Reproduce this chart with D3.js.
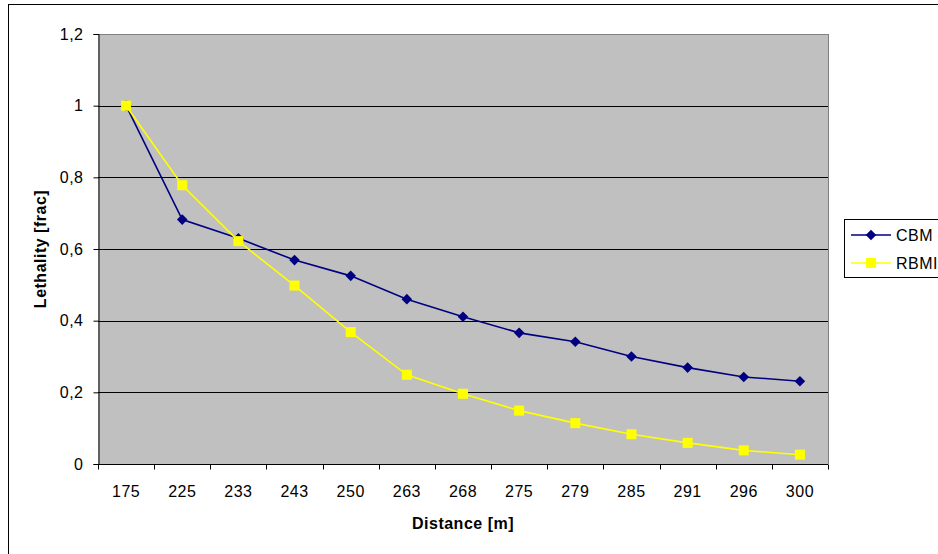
<!DOCTYPE html>
<html><head><meta charset="utf-8">
<script src="https://cdn.jsdelivr.net/npm/d3@7"></script>
<style>body{margin:0;background:#fff}svg{display:block;font-family:"Liberation Sans",Arial,sans-serif}</style>
</head><body><svg id="c" width="938" height="554"></svg>
<script>
const categories = ["175","225","233","243","250","263","268","275","279","285","291","296","300"];
const cbm  = [1.0,0.682,0.63,0.569,0.525,0.46,0.411,0.366,0.341,0.30,0.269,0.243,0.231];
const rbmi = [1.0,0.778,0.622,0.498,0.368,0.249,0.196,0.149,0.114,0.083,0.059,0.038,0.026];
const yTicks = [0,0.2,0.4,0.6,0.8,1.0,1.2];
const seriesNames = ["CBM","RBMI"];

const svg = d3.select("#c");
const L=98,R=828,T=34,B=464;
const FS=16, LS="0.5px";
svg.append("rect").attr("x",8.5).attr("y",4.5).attr("width",940).attr("height",560).attr("fill","#fff").attr("stroke","#000").attr("stroke-width",1);

const x = d3.scaleBand().domain(categories).range([L,R]);
const y = d3.scaleLinear().domain([0,1.2]).range([B,T]);

svg.append("rect").attr("x",L).attr("y",T).attr("width",R-L).attr("height",B-T).attr("fill","#c0c0c0");
svg.append("g").selectAll("line").data(yTicks.filter(d=>d>0)).join("line")
 .attr("x1",L).attr("x2",R).attr("y1",d=>Math.round(y(d))+0.5).attr("y2",d=>Math.round(y(d))+0.5)
 .attr("stroke",d=>d===1.2?"#808080":"#000").attr("stroke-width",1);
svg.append("line").attr("x1",R+0.5).attr("x2",R+0.5).attr("y1",T).attr("y2",B).attr("stroke","#808080");

const fmt = d=>String(+d.toFixed(1)).replace(".",",");
const yAxis = d3.axisLeft(y).tickValues(yTicks).tickFormat(fmt).tickSize(5).tickPadding(10);
const gy = svg.append("g").attr("transform",`translate(${L+0.5},0)`).call(yAxis);
gy.select(".domain").attr("stroke","#000");
gy.selectAll(".tick line").attr("stroke","#000");
gy.selectAll("text").attr("font-size",FS).attr("letter-spacing",LS).attr("fill","#000").attr("font-family","Liberation Sans, Arial");

const xAxis = d3.axisBottom(x).tickSize(0).tickPadding(21);
const gx = svg.append("g").attr("transform",`translate(0,${B+0.5})`).call(xAxis);
gx.select(".domain").attr("stroke","#000").attr("d",`M${L},0H${R}`);
gx.selectAll("text").attr("font-size",FS).attr("letter-spacing",LS).attr("fill","#000").attr("font-family","Liberation Sans, Arial");
const bounds = categories.map(c=>x(c)).concat([R]);
gx.append("g").selectAll("line").data(bounds).join("line")
 .attr("x1",d=>Math.round(d)+0.5).attr("x2",d=>Math.round(d)+0.5).attr("y1",0).attr("y2",5).attr("stroke","#000");

const cx = c=>x(c)+x.bandwidth()/2;
const line = d3.line().x((d,i)=>cx(categories[i])).y(d=>y(d));
svg.append("path").datum(cbm).attr("d",line).attr("fill","none").attr("stroke","#000080").attr("stroke-width",1.6);
svg.append("path").datum(rbmi).attr("d",line).attr("fill","none").attr("stroke","#ffff00").attr("stroke-width",1.6);
svg.append("g").selectAll("path").data(cbm).join("path")
 .attr("transform",(d,i)=>`translate(${cx(categories[i])},${y(d)}) rotate(45)`).attr("d",d3.symbol().type(d3.symbolSquare).size(56)).attr("fill","#000080");
svg.append("g").selectAll("rect").data(rbmi).join("rect")
 .attr("x",(d,i)=>cx(categories[i])-5).attr("y",d=>y(d)-5).attr("width",10).attr("height",10).attr("fill","#ffff00");

svg.append("text").attr("x",(L+R)/2).attr("y",529).attr("text-anchor","middle").attr("font-weight","bold").attr("font-size",FS).attr("letter-spacing",LS).text("Distance [m]");
svg.append("text").attr("transform",`translate(46,249) rotate(-90)`).attr("text-anchor","middle").attr("font-weight","bold").attr("font-size",FS).attr("letter-spacing",LS).text("Lethality [frac]");

const lg = svg.append("g");
lg.append("rect").attr("x",844.5).attr("y",219.5).attr("width",110).attr("height",58).attr("fill","#fff").attr("stroke","#000");
const legY=[235,263], legC=["#000080","#ffff00"];
seriesNames.forEach((n,i)=>{
  lg.append("line").attr("x1",851).attr("x2",891).attr("y1",legY[i]).attr("y2",legY[i]).attr("stroke",legC[i]).attr("stroke-width",1.6);
  if(i===0) lg.append("path").attr("transform",`translate(871,${legY[i]}) rotate(45)`).attr("d",d3.symbol().type(d3.symbolSquare).size(56)).attr("fill",legC[i]);
  else lg.append("rect").attr("x",866).attr("y",legY[i]-5).attr("width",10).attr("height",10).attr("fill",legC[i]);
  lg.append("text").attr("x",896).attr("y",legY[i]+6).attr("font-size",FS).attr("letter-spacing",LS).text(n);
});
</script></body></html>
